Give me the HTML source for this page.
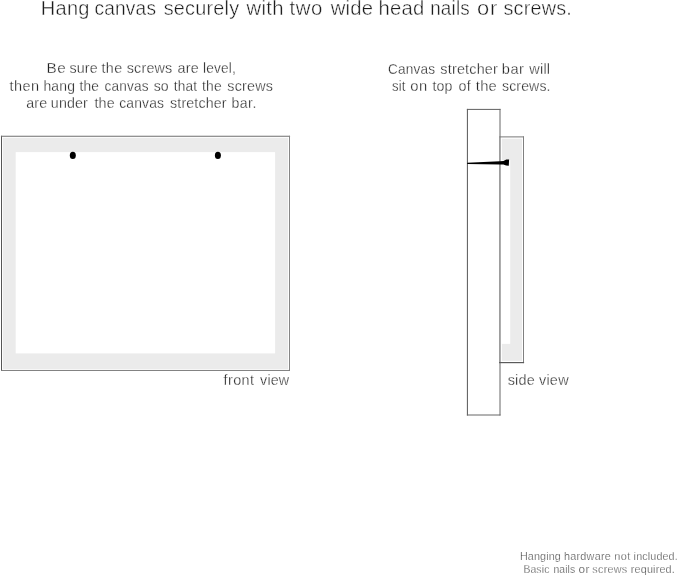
<!DOCTYPE html>
<html>
<head>
<meta charset="utf-8">
<title>Hanging instructions</title>
<style>
html,body{margin:0;padding:0;background:#fff;}
body{width:679px;height:576px;position:relative;overflow:hidden;font-family:"Liberation Sans",sans-serif;}
#layer{position:absolute;left:0;top:0;width:679px;height:576px;will-change:transform;}
#layer svg{position:absolute;left:0;top:0;font-family:"Liberation Sans",sans-serif;}
</style>
</head>
<body>
<div id="layer">
<svg width="679" height="576" viewBox="0 0 679 576">
  <!-- front view -->
  <rect x="2.8" y="137.8" width="285.3" height="231.2" fill="#ebebeb"/>
  <rect x="15.7" y="152.1" width="259.4" height="201.3" fill="#ffffff"/>
  <g fill="none" stroke-width="1" stroke-linecap="square">
    <path d="M1.5 136.3 V370.4" stroke="#555"/>
    <path d="M1.5 136.25 H289.5" stroke="#6e6e6e" stroke-width="1.15"/>
    <path d="M289.5 136.3 V370.4" stroke="#868686"/>
    <path d="M1.5 370.45 H289.5" stroke="#7c7c7c"/>
  </g>
  <ellipse cx="72.8" cy="155.45" rx="3" ry="3.6" fill="#000"/>
  <ellipse cx="217.9" cy="155.45" rx="3" ry="3.6" fill="#000"/>
  <!-- side view -->
  <rect x="501.9" y="138.7" width="20.1" height="222.2" fill="#ebebeb"/>
  <rect x="500.4" y="160" width="9.8" height="183.9" fill="#ffffff"/>
  <g fill="none" stroke-width="1" stroke-linecap="square">
    <path d="M467.4 109.4 V415" stroke="#555"/>
    <path d="M467.4 109.4 H500" stroke="#606060"/>
    <path d="M500 109.4 V415" stroke="#666"/>
    <path d="M467.4 415 H500" stroke="#666"/>
    <path d="M499.7 136.9 V362.6" stroke="#999"/>
    <path d="M500 136.9 H523.5" stroke="#777"/>
    <path d="M523.5 136.9 V362.6" stroke="#808080"/>
    <path d="M499.7 362.6 H523.5" stroke="#5a5a5a" stroke-width="1.2"/>
  </g>
  <path d="M467.2 162.85 L500 161.2 L503.4 161.1 L506.3 159.6 L509.1 159.4 L508.8 165.8 L506.1 165.6 L503.4 164.6 L500 164.4 L467.2 164.1 Z" fill="#000"/>
  <!-- text -->
  <g id="title" font-size="20.3" fill="#1c1c1c" stroke="#fff" stroke-width="0.42">
    <text transform="translate(40.85,14.7) scale(0.9870,1)" letter-spacing="0.217">Hang</text>
    <text transform="translate(94.44,14.7) scale(0.9417,1)" letter-spacing="0.217">canvas</text>
    <text transform="translate(163.65,14.7) scale(0.9788,1)" letter-spacing="0.217">securely</text>
    <text transform="translate(246.56,14.7) scale(0.9986,1)" letter-spacing="0.295">with</text>
    <text transform="translate(289.38,14.7) scale(1.0048,1)" letter-spacing="0.652">two</text>
    <text transform="translate(330.65,14.7) scale(0.9973,1)" letter-spacing="0.217">wide</text>
    <text transform="translate(378.45,14.7) scale(0.9980,1)" letter-spacing="0.217">head</text>
    <text transform="translate(430.17,14.7) scale(0.9281,1)" letter-spacing="0.217">nails</text>
    <text transform="translate(477.07,14.7) scale(1.0789,1)" letter-spacing="0.652">or</text>
    <text transform="translate(503.42,14.7) scale(0.9757,1)" letter-spacing="0.217">screws.</text>
  </g>
  <g id="l1" font-size="14.4" fill="#222" stroke="#fff" stroke-width="0.3">
    <text transform="translate(46.57,73.4) scale(1.0639,1)" letter-spacing="0.463">Be</text>
    <text transform="translate(69.39,73.4) scale(0.9935,1)" letter-spacing="0.154">sure</text>
    <text transform="translate(101.47,73.4) scale(0.9933,1)" letter-spacing="0.388">the</text>
    <text transform="translate(126.77,73.4) scale(0.9972,1)" letter-spacing="0.165">screws</text>
    <text transform="translate(177.43,73.4) scale(0.9985,1)" letter-spacing="0.212">are</text>
    <text transform="translate(203.07,73.4) scale(0.9537,1)" letter-spacing="0.154">level,</text>
  </g>
  <g id="l2" font-size="14.4" fill="#222" stroke="#fff" stroke-width="0.3">
    <text transform="translate(9.43,90.7) scale(1.0097,1)" letter-spacing="0.463">then</text>
    <text transform="translate(43.46,90.7) scale(0.9681,1)" letter-spacing="0.154">hang</text>
    <text transform="translate(79.50,90.7) scale(0.9522,1)" letter-spacing="0.154">the</text>
    <text transform="translate(104.60,90.7) scale(0.9461,1)" letter-spacing="0.154">canvas</text>
    <text transform="translate(153.66,90.7) scale(0.9814,1)" letter-spacing="0.154">so</text>
    <text transform="translate(173.76,90.7) scale(0.9476,1)" letter-spacing="0.154">that</text>
    <text transform="translate(202.07,90.7) scale(0.9671,1)" letter-spacing="0.154">the</text>
    <text transform="translate(227.26,90.7) scale(0.9941,1)" letter-spacing="0.252">screws</text>
  </g>
  <g id="l3" font-size="14.4" fill="#222" stroke="#fff" stroke-width="0.3">
    <text transform="translate(26.27,107.5) scale(0.9894,1)" letter-spacing="0.154">are</text>
    <text transform="translate(50.82,107.5) scale(0.9897,1)" letter-spacing="0.154">under</text>
    <text transform="translate(94.45,107.5) scale(0.9954,1)" letter-spacing="0.154">the</text>
    <text transform="translate(119.19,107.5) scale(0.9656,1)" letter-spacing="0.154">canvas</text>
    <text transform="translate(170.06,107.5) scale(0.9886,1)" letter-spacing="0.154">stretcher</text>
    <text transform="translate(231.62,107.5) scale(0.9818,1)" letter-spacing="0.405">bar.</text>
  </g>
  <g id="r1" font-size="14.4" fill="#222" stroke="#fff" stroke-width="0.3">
    <text transform="translate(388.12,73.7) scale(0.9458,1)" letter-spacing="0.154">Canvas</text>
    <text transform="translate(440.37,73.7) scale(0.9992,1)" letter-spacing="0.195">stretcher</text>
    <text transform="translate(501.86,73.7) scale(1.0138,1)" letter-spacing="0.463">bar</text>
    <text transform="translate(529.36,73.7) scale(1.0085,1)" letter-spacing="0.154">will</text>
  </g>
  <g id="r2" font-size="14.4" fill="#222" stroke="#fff" stroke-width="0.3">
    <text transform="translate(391.94,91.0) scale(0.9126,1)" letter-spacing="0.154">sit</text>
    <text transform="translate(410.37,91.0) scale(1.0258,1)" letter-spacing="0.463">on</text>
    <text transform="translate(432.38,91.0) scale(0.9824,1)" letter-spacing="0.154">top</text>
    <text transform="translate(458.38,91.0) scale(0.9928,1)" letter-spacing="0.463">of</text>
    <text transform="translate(475.82,91.0) scale(1.0263,1)" letter-spacing="0.212">the</text>
    <text transform="translate(501.96,91.0) scale(0.9760,1)" letter-spacing="0.154">screws.</text>
  </g>
  <g id="fv" font-size="14.4" fill="#222" stroke="#fff" stroke-width="0.3">
    <text transform="translate(223.46,384.5) scale(0.9973,1)" letter-spacing="0.463">front</text>
    <text transform="translate(260.12,384.5) scale(0.9933,1)" letter-spacing="0.154">view</text>
  </g>
  <g id="sv" font-size="14.4" fill="#222" stroke="#fff" stroke-width="0.3">
    <text transform="translate(507.74,385.2) scale(1.0019,1)" letter-spacing="0.173">side</text>
    <text transform="translate(538.92,385.2) scale(1.0052,1)" letter-spacing="0.242">view</text>
  </g>
  <g id="b1" font-size="10.8" fill="#444" stroke="#fff" stroke-width="0.25">
    <text transform="translate(519.92,559.7) scale(1.0015,1)" letter-spacing="0.116">Hanging</text>
    <text transform="translate(563.89,559.7) scale(1.0033,1)" letter-spacing="0.269">hardware</text>
    <text transform="translate(614.27,559.7) scale(1.0146,1)" letter-spacing="0.347">not</text>
    <text transform="translate(633.62,559.7) scale(0.9961,1)" letter-spacing="0.137">included.</text>
  </g>
  <g id="b2" font-size="10.8" fill="#444" stroke="#fff" stroke-width="0.25">
    <text transform="translate(523.39,572.5) scale(0.9672,1)" letter-spacing="0.116">Basic</text>
    <text transform="translate(553.40,572.5) scale(0.9606,1)" letter-spacing="0.116">nails</text>
    <text transform="translate(578.49,572.5) scale(1.0931,1)" letter-spacing="0.347">or</text>
    <text transform="translate(592.33,572.5) scale(0.9951,1)" letter-spacing="0.290">screws</text>
    <text transform="translate(630.83,572.5) scale(1.0000,1)" letter-spacing="0.161">required.</text>
  </g>
</svg>
</div>
</body>
</html>
